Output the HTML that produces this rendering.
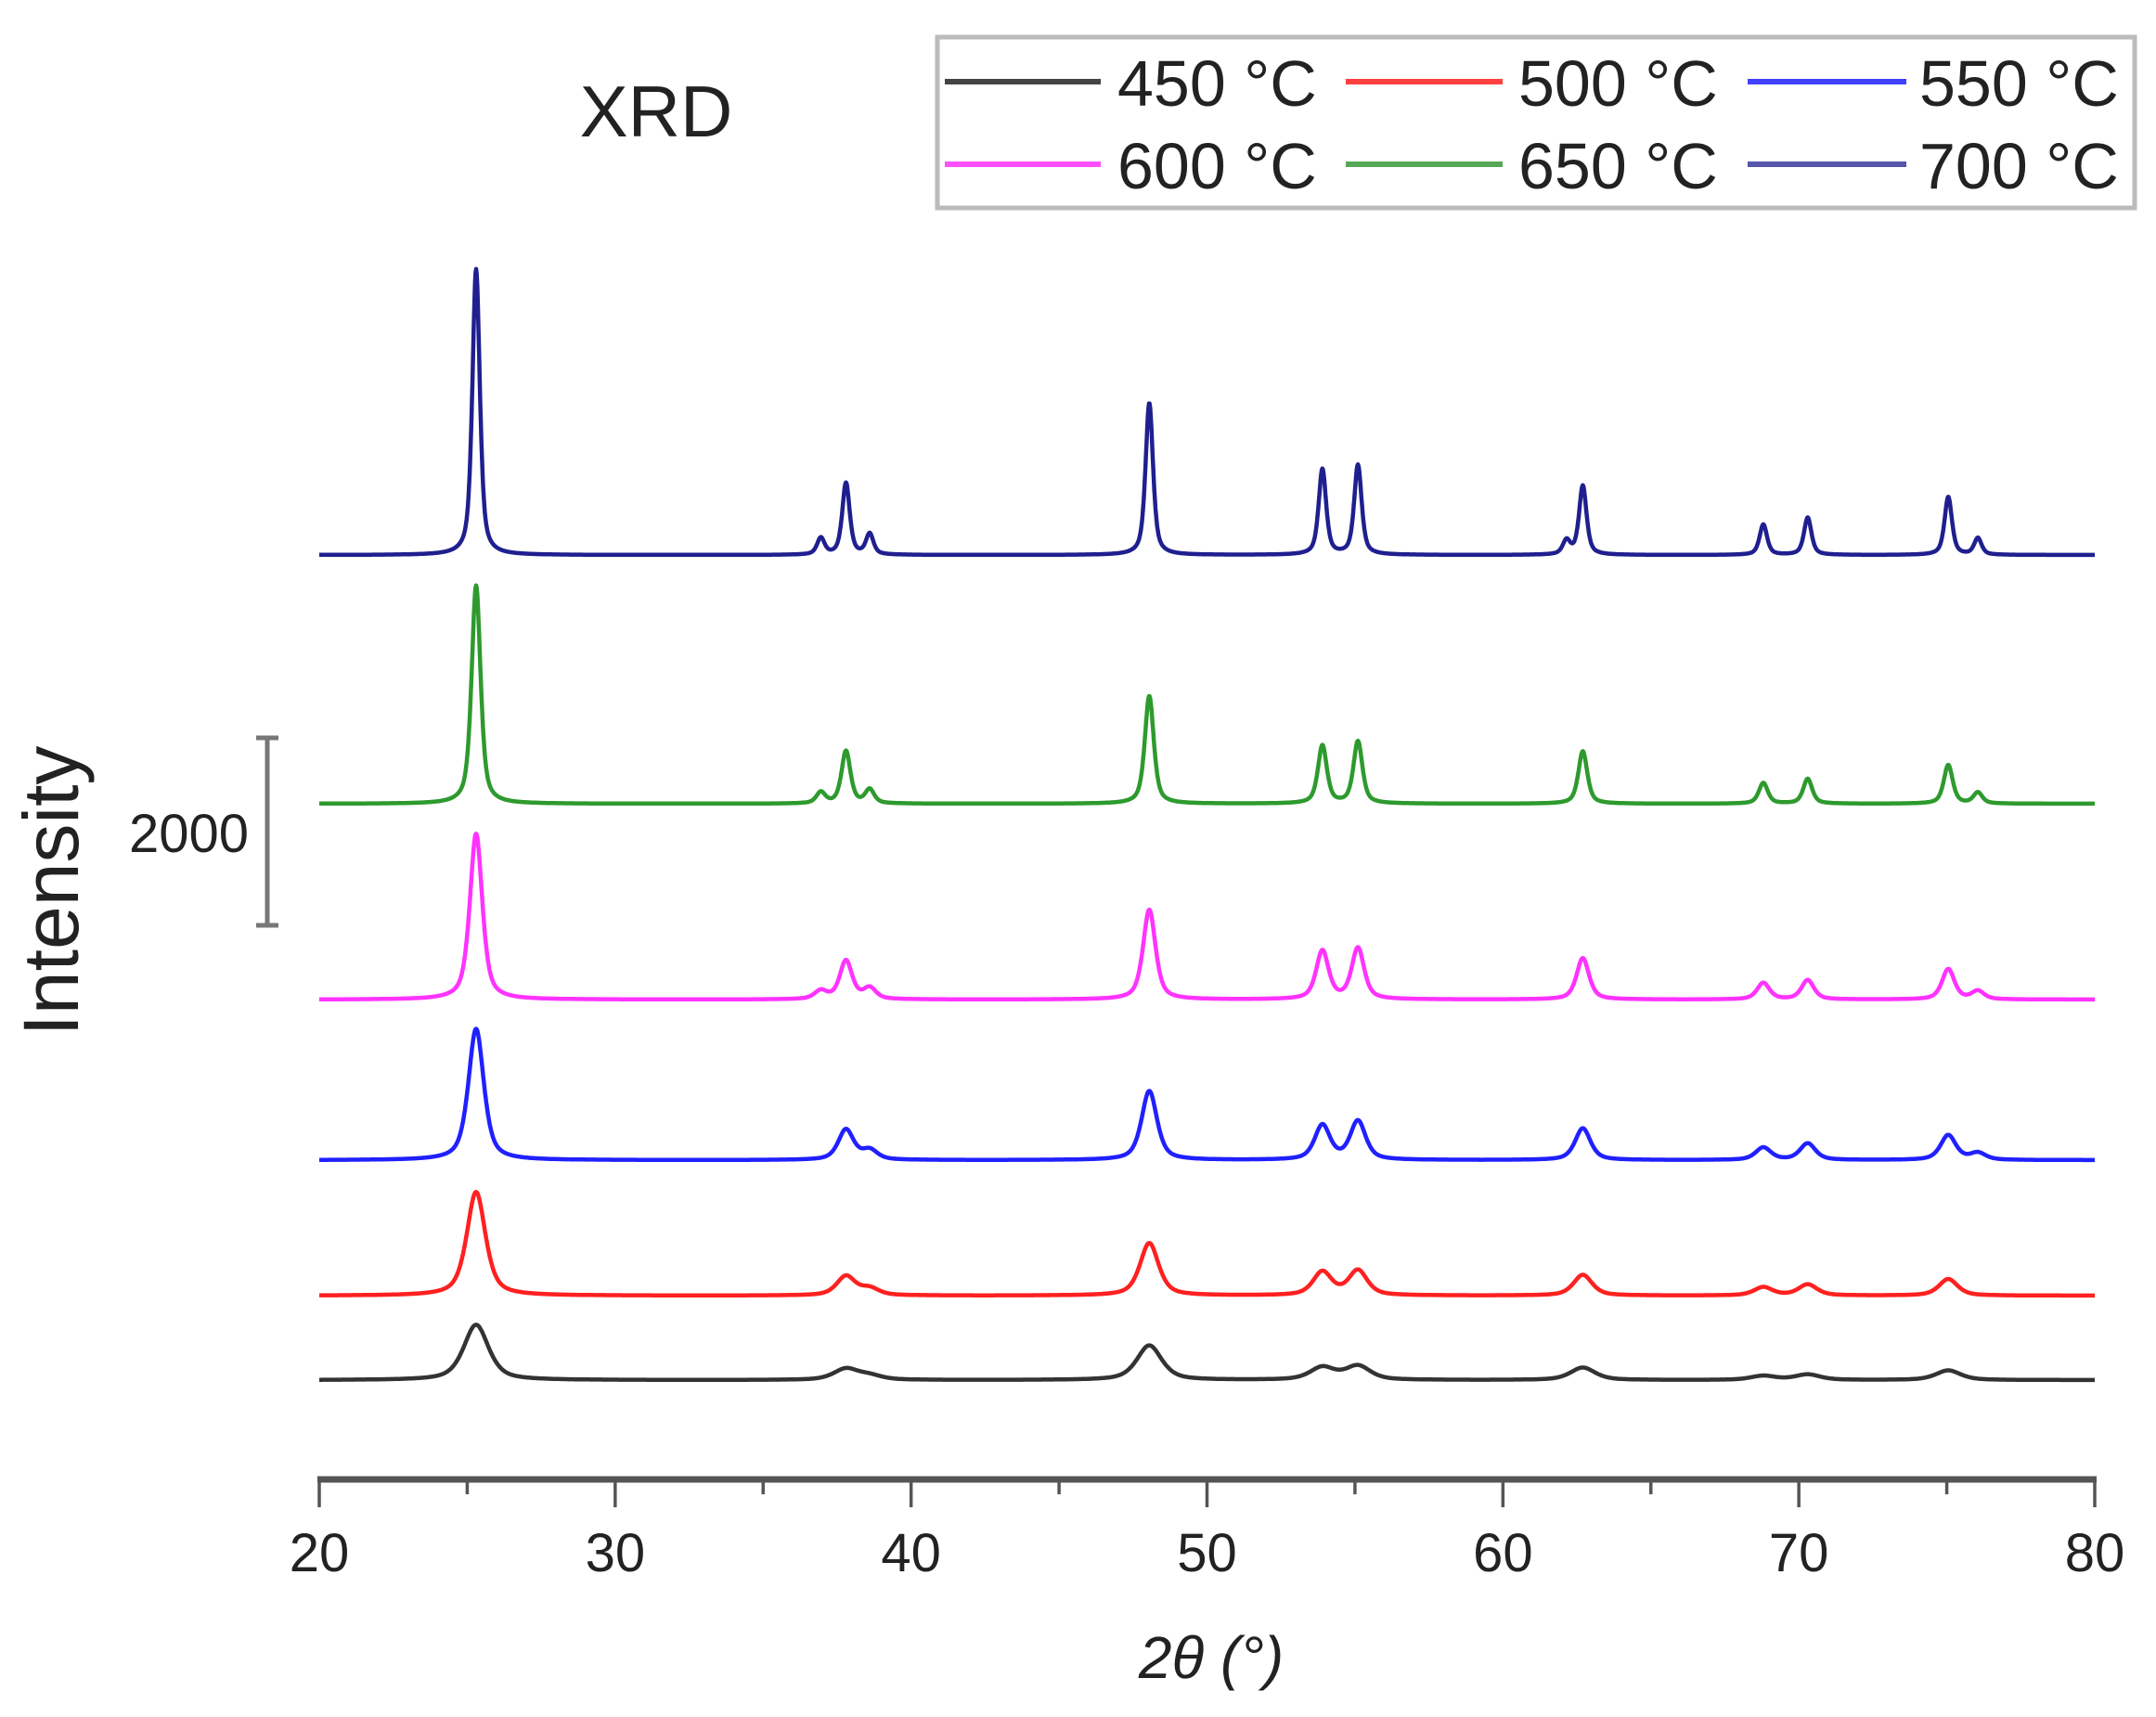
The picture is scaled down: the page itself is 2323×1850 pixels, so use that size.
<!DOCTYPE html>
<html><head><meta charset="utf-8"><style>
html,body{margin:0;padding:0;background:#fff;}
svg{display:block;}
text{font-family:"Liberation Sans",sans-serif;fill:#222;}
</style></head><body>
<svg id="s" width="2323" height="1850" viewBox="0 0 2323 1850" xmlns="http://www.w3.org/2000/svg">
<text x="707" y="147" font-size="78" text-anchor="middle">XRD</text>
<rect x="1010" y="40" width="1290" height="184" fill="#fff" stroke="#bbb" stroke-width="5"/>
<g stroke-width="6">
<line x1="1018" y1="88" x2="1186" y2="88" stroke="#444"/>
<line x1="1450" y1="88" x2="1619" y2="88" stroke="#ff4040"/>
<line x1="1883" y1="88" x2="2054" y2="88" stroke="#4040ff"/>
<line x1="1018" y1="177" x2="1186" y2="177" stroke="#ff50ff"/>
<line x1="1450" y1="177" x2="1619" y2="177" stroke="#55a855"/>
<line x1="1883" y1="177" x2="2054" y2="177" stroke="#5555aa"/>
</g>
<g font-size="70">
<text x="1204" y="114">450 °C</text>
<text x="1636" y="114">500 °C</text>
<text x="2068" y="114">550 °C</text>
<text x="1204" y="203">600 °C</text>
<text x="1636" y="203">650 °C</text>
<text x="2068" y="203">700 °C</text>
</g>
<g id="curves" fill="none" stroke-width="4.5" stroke-linejoin="round"></g>
<g stroke="#777">
<line x1="288" y1="795" x2="288" y2="997" stroke-width="5"/>
<line x1="276" y1="795" x2="300" y2="795" stroke-width="5"/>
<line x1="276" y1="997" x2="300" y2="997" stroke-width="5"/>
</g>
<text x="268" y="918" font-size="58" text-anchor="end">2000</text>
<text transform="translate(84,960) rotate(-90)" font-size="84" text-anchor="middle" fill="#3a2a1a">Intensity</text>
<g id="axis"></g>
<text x="1305" y="1808" font-size="64" text-anchor="middle" font-style="italic" font-family="Liberation Serif,serif">2<tspan>θ</tspan> (°)</text>
</svg>
<script>
var X0=344,X1=2257;function px(t){return X0+(t-20)/60*(X1-X0);}
var ax=document.getElementById('axis'),h='';
h+='<line x1="'+(X0-2)+'" y1="1594" x2="'+(X1+2)+'" y2="1594" stroke="#555" stroke-width="7"/>';
for(var t=20;t<=80;t+=5){var x=px(t);var L=(t%10==0)?30:16;
h+='<line x1="'+x+'" y1="1594" x2="'+x+'" y2="'+(1594+L)+'" stroke="#555" stroke-width="3.5"/>';
if(t%10==0)h+='<text x="'+x+'" y="1693" font-size="58" text-anchor="middle">'+t+'</text>';}
ax.innerHTML=h;
var S=1.489;
var series=[
{c:'#1f1f8f',b:598,w:0.3,p:[[25.3,207],[36.95,12],[37.8,52],[38.6,15],[48.05,110],[53.9,62],[55.1,65],[62.15,10],[62.7,50],[68.8,22],[70.3,27],[75.05,42],[76.05,12]]},
{c:'#2e9a2e',b:866,w:0.36,p:[[25.3,158],[36.95,8],[37.8,38],[38.6,10],[48.05,78],[53.9,42],[55.1,45],[62.7,38],[68.8,15],[70.3,18],[75.05,28],[76.05,8]]},
{c:'#ff33ff',b:1077,w:0.5,p:[[25.3,120],[36.95,6],[37.8,28],[38.6,8],[48.05,65],[53.9,35],[55.1,37],[62.7,30],[68.8,12],[70.3,14],[75.05,22],[76.05,6]]},
{c:'#2020ff',b:1250,w:0.62,p:[[25.3,95],[37.8,22],[38.6,7],[48.05,50],[53.9,25],[55.1,28],[62.7,23],[68.8,9],[70.3,12],[75.05,18],[76.05,5]]},
{c:'#ff2020',b:1396,w:0.75,p:[[25.3,75],[37.8,14],[38.6,5],[48.05,38],[53.9,17],[55.1,18],[62.7,15],[68.8,6],[70.3,8],[75.05,12]]},
{c:'#333333',b:1487,w:1.0,p:[[25.3,40],[37.8,8],[38.6,3],[48.05,25],[53.9,9],[55.1,10],[62.7,9],[68.8,3],[70.3,4],[75.05,7]]}];
var g=document.getElementById('curves'),o='';
series.forEach(function(s){var d='';
for(var i=0;i<=3000;i++){var t=20+60*i/3000,y=0;
s.p.forEach(function(q){var u=(t-q[0])/(s.w/2);y+=q[1]*(0.6/(1+u*u)+0.4*Math.exp(-0.693*u*u));});
d+=(i?'L':'M')+px(t).toFixed(1)+' '+(s.b-y*S).toFixed(1);}
o+='<path d="'+d+'" stroke="'+s.c+'"/>';});
g.innerHTML=o;
</script>
</body></html>
